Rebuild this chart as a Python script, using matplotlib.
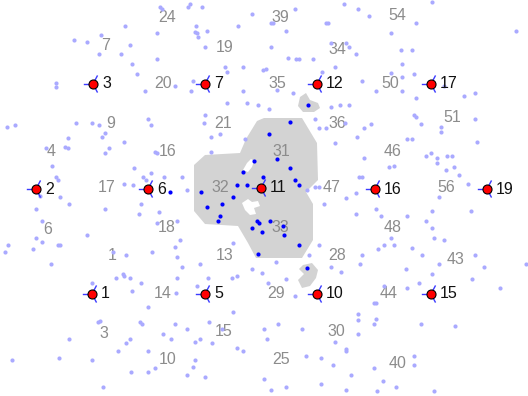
import numpy as np
import matplotlib.pyplot as plt
from matplotlib.patches import Polygon

plt.rcParams['font.family'] = ['Liberation Sans', 'DejaVu Sans']

# map frame: x to the right, y downwards (grid rows)
sensor_id = [1, 2, 3, 5, 6, 7, 10, 11, 12, 15, 16, 17, 19]
sensor_x = [92, 36, 93, 205, 148, 205, 317, 261, 317, 431, 375, 431, 487]
sensor_y = [294, 189, 84, 294, 189, 84, 294, 188, 84, 294, 189, 84, 189]

cell_id = [24, 39, 54, 7, 19, 34, 20, 35, 50, 9, 21, 36, 51, 4, 16, 31, 46,
           17, 32, 47, 56, 6, 18, 33, 48, 1, 13, 28, 43, 14, 29, 44,
           3, 15, 30, 10, 25, 40]
cell_x = [167, 280, 397, 106, 225, 337, 163, 277, 390, 111, 223, 337, 452, 51, 168, 281, 393,
          107, 220, 332, 446, 48, 167, 280, 393, 112, 225, 337, 456, 163, 276, 389,
          104, 224, 336, 168, 281, 398]
cell_y = [18, 18, 15, 46, 48, 49, 84, 84, 84, 123, 123, 123, 118, 151, 152, 152, 152,
          188, 188, 188, 188, 229, 227, 227, 227, 255, 255, 255, 260, 293, 293, 293,
          333, 331, 331, 360, 360, 364]

# all observations (light) and the ones inside the selected cells (dark)
obs_x = [160, 162, 190, 188, 202, 252, 196, 195, 197, 207, 198, 238, 125, 157, 101, 74, 87, 130,
         121, 99, 157, 205, 132, 137, 225, 227, 243, 263, 56, 56, 145, 175, 193, 191, 243, 227,
         247, 258, 205, 204, 148, 151, 76, 92, 99, 7, 15, 105, 102, 68, 65, 68, 46, 109, 124,
         105, 211, 220, 211, 245, 155, 157, 52, 56, 58, 60, 134, 151, 143, 146, 164, 182, 124,
         133, 187,
         295, 344, 358, 432, 271, 273, 286, 326, 328, 369, 416, 391, 516, 271, 331, 346, 349,
         356, 401, 412, 288, 296, 299, 313, 335, 266, 322, 402, 391, 402, 414, 277, 293, 362,
         376, 402, 416, 444, 464, 475, 269, 331, 340, 349, 315, 319, 326, 345, 364, 371, 414,
         416, 421, 441, 441, 475, 357, 407, 412, 335, 477, 364, 389, 394, 426, 431, 437, 447,
         452, 437, 446, 454, 459, 359, 362, 468, 315, 319, 307, 356, 346, 439,
         40, 69, 36, 105, 141, 139, 159, 42, 157, 177, 87, 36, 42, 58, 60, 8, 33, 5, 180, 175,
         152, 113, 126, 177, 233, 51, 182, 200, 252, 123, 124, 116, 130, 141, 177, 208, 232,
         237, 262, 92, 132, 176, 197, 148, 233, 100, 98, 140, 142, 175, 209, 187, 69, 163, 171,
         130, 126, 195, 200, 222, 212, 237, 243, 118, 148, 12, 59, 92, 195, 155, 148, 131, 193,
         187, 205, 103,
         324, 356, 376, 381, 407, 432, 471, 426, 432, 434, 444, 391, 384, 394, 412, 378, 319,
         309, 362, 360, 331, 341, 276, 406, 422, 439, 475, 484, 526, 432, 472, 268, 286, 384,
         419, 407, 500, 295, 374, 376, 358, 358, 376, 374, 278, 302, 264, 421, 455, 267, 358,
         335, 346, 346, 306, 321, 333, 374, 414, 414, 351, 264, 383, 321, 286, 396, 271, 346,
         377, 434]
obs_y = [7, 9, 4, 7, 7, 14, 26, 32, 33, 31, 37, 26, 26, 33, 35, 40, 42, 45,
         54, 54, 59, 47, 64, 74, 67, 72, 67, 70, 83, 87, 91, 86, 81, 91, 91, 103,
         103, 105, 115, 123, 119, 125, 123, 123, 125, 127, 125, 133, 137, 138, 147, 148, 148, 148, 142,
         153, 137, 134, 152, 139, 152, 153, 166, 177, 180, 197, 168, 173, 177, 180, 177, 177, 184,
         185, 190,
         9, 4, 9, 2, 23, 23, 31, 23, 23, 16, 23, 33, 31, 47, 43, 43, 47,
         54, 50, 50, 58, 59, 59, 59, 67, 69, 72, 64, 73, 77, 74, 90, 93, 81,
         91, 91, 98, 86, 96, 93, 109, 107, 105, 105, 119, 128, 128, 123, 128, 124, 115,
         117, 124, 127, 132, 119, 137, 139, 139, 143, 142, 158, 167, 166, 156, 153, 158, 156,
         156, 163, 170, 167, 175, 177, 177, 184, 187, 187, 190, 193, 198, 197,
         196, 204, 209, 209, 204, 214, 212, 221, 223, 221, 235, 238, 242, 245, 245, 245, 249, 252, 240, 247,
         252, 252, 255, 257, 243, 264, 267, 264, 269, 274, 276, 278, 278, 283, 278, 278, 278,
         276, 273, 283, 291, 293, 286, 307, 312, 321, 322, 322, 324, 324, 322, 329, 339, 334, 339,
         339, 343, 342, 339, 329, 343, 348, 351, 351, 351, 360, 358, 360, 360, 368, 372, 372, 367,
         375, 377, 387,
         204, 214, 209, 216, 216, 211, 211, 221, 228, 238, 240, 238, 245, 245, 248, 249, 245,
         255, 255, 264, 267, 272, 262, 269, 255, 264, 255, 267, 264, 274, 279, 283, 279, 286,
         283, 288, 288, 296, 303, 303, 314, 320, 319, 324, 324, 329, 329, 324, 326, 339, 334,
         342, 349, 351, 356, 358, 365, 368, 356, 365, 375, 379, 381, 384, 387, 387, 390, 390,
         391, 391]

sel_x = [308, 290, 269, 277, 254, 243, 290, 295, 299, 263, 237, 247, 201, 233, 207, 222,
         220, 218, 257, 259, 270, 252, 262, 283, 284, 299, 258, 307, 170]
sel_y = [105, 122, 134, 159, 161, 172, 168, 180, 185, 177, 185, 185, 192, 197, 207, 204,
         216, 221, 221, 223, 221, 228, 232, 226, 235, 245, 254, 268, 192]

# outline of the selected cells (31, 32, 33) and two small fragments
area_x = [257, 264, 302, 317, 318, 306, 313, 313, 302, 256, 248, 238, 205, 194, 194, 205, 240, 246]
area_y = [121, 118, 118, 143, 180, 192, 204, 240, 258, 258, 243, 226, 224, 211, 165, 155, 153, 139]
frag1_x = [300, 306, 310, 318, 320, 314, 303, 298]
frag1_y = [97, 93, 100, 103, 108, 112, 112, 106]
frag2_x = [303, 312, 318, 316, 310, 302, 298, 304, 299]
frag2_y = [265, 263, 270, 278, 286, 288, 280, 274, 269]
hole1_x = [243, 247, 251, 254, 252, 248]
hole1_y = [170, 163, 159, 161, 167, 172]
hole2_x = [242, 248, 252, 258, 260, 254, 256, 250, 245]
hole2_y = [203, 199, 202, 201, 206, 208, 214, 215, 210]

fig = plt.figure(figsize=(5.28, 3.96), dpi=100)
ax = fig.add_axes([0, 0, 1, 1])

gray = '#d3d3d3'
for px, py in [(area_x, area_y), (frag1_x, frag1_y), (frag2_x, frag2_y)]:
    ax.add_patch(Polygon(np.column_stack([px, py]), closed=True, fc=gray, ec='none', zorder=0))
for px, py in [(hole1_x, hole1_y), (hole2_x, hole2_y)]:
    ax.add_patch(Polygon(np.column_stack([px, py]), closed=True, fc='white', ec='none', zorder=0.5))

for i, cx, cy in zip(cell_id, cell_x, cell_y):
    ax.text(cx, cy, str(i), color='#8c8c8c', fontsize=11.5, ha='center', va='center', zorder=1)

ax.plot(obs_x, obs_y, 'o', ms=3, color='#aaaaff', mec='none', zorder=2)
ax.plot(sel_x, sel_y, 'o', ms=3, color='#0000ff', mec='none', zorder=2.5)

# three short spokes on every sensor
spoke_len = 9
for sx, sy in zip(sensor_x, sensor_y):
    for a in np.radians([180, 62, -62]):
        ax.plot([sx, sx + spoke_len * np.cos(a)], [sy, sy - spoke_len * np.sin(a)],
                color='#3b3bff', lw=1, zorder=3)

ax.plot(sensor_x, sensor_y, 'o', ms=6.5, color='red', mec='black', mew=0.8, zorder=4)
for i, sx, sy in zip(sensor_id, sensor_x, sensor_y):
    ax.text(sx + 9, sy, str(i), color='#111111', fontsize=11.5, ha='left', va='center', zorder=5)

ax.set_xlim(0, 528)
ax.set_ylim(396, 0)
ax.axis('off')

fig.savefig('out.png', dpi=100)
